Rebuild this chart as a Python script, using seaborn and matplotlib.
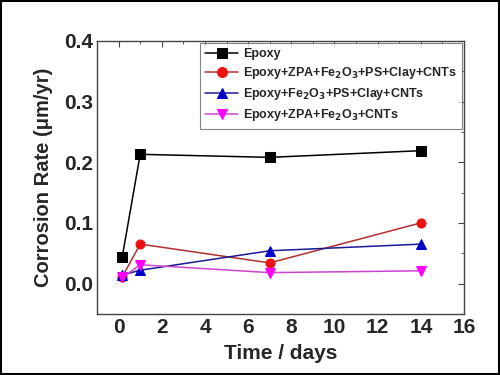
import matplotlib
matplotlib.use("Agg")
import matplotlib.pyplot as plt
import seaborn as sns
import pandas as pd
from matplotlib.ticker import MultipleLocator

# Data
days = [0.17, 1, 7, 14]
epoxy = [0.044, 0.213, 0.208, 0.219]
zpa_ps_clay = [0.011, 0.065, 0.034, 0.100]
fe_ps_clay = [0.014, 0.022, 0.054, 0.065]
zpa_cnts = [0.010, 0.031, 0.018, 0.021]

labels = ["Epoxy",
          "Epoxy+ZPA+Fe$_2$O$_3$+PS+Clay+CNTs",
          "Epoxy+Fe$_2$O$_3$+PS+Clay+CNTs",
          "Epoxy+ZPA+Fe$_2$O$_3$+CNTs"]
series = [epoxy, zpa_ps_clay, fe_ps_clay, zpa_cnts]
colors = ["black", "#ee1111", "#0000cc", "#ff00ff"]
line_colors = ["black", "#b03030", "#1a1a99", "#cc44cc"]
markers = ["s", "o", "^", "v"]

sns.set_style("white")
plt.rcParams["font.family"] = ["Liberation Sans", "DejaVu Sans"]
plt.rcParams["font.weight"] = "bold"
plt.rcParams["mathtext.default"] = "bf"

fig = plt.figure(figsize=(5, 3.75), dpi=100)
ax = fig.add_axes([0.194, 0.163, 0.734, 0.728])

for vals, lab, c, lc, m in zip(series, labels, colors, line_colors, markers):
    df = pd.DataFrame({"Time": days, "Rate": vals})
    sns.lineplot(data=df, x="Time", y="Rate", ax=ax, color=lc, marker=m,
                 markersize=6.5, markerfacecolor=c, markeredgecolor=c,
                 linewidth=1.1, label=lab)

ax.set_xlim(-1, 16)
ax.set_ylim(-0.05, 0.4)
ax.xaxis.set_major_locator(MultipleLocator(2))
ax.xaxis.set_minor_locator(MultipleLocator(1))
ax.yaxis.set_major_locator(MultipleLocator(0.1))
ax.yaxis.set_minor_locator(MultipleLocator(0.05))
ax.tick_params(which="both", direction="in", top=True, right=True,
               color="#444444")
ax.tick_params(which="major", length=4, labelsize=15, pad=3)
ax.tick_params(which="minor", length=2.5)
ax.set_xticks(range(0, 17, 2))
ax.set_xticklabels([str(t) for t in range(0, 17, 2)])
ax.yaxis.set_major_formatter(matplotlib.ticker.FormatStrFormatter("%.1f"))
for s in ax.spines.values():
    s.set_color("#444444")
    s.set_linewidth(1.0)

ax.set_xlabel("Time / days", fontsize=15, fontweight="bold", labelpad=5)
ax.set_ylabel("Corrosion Rate (μm/yr)", fontsize=14.5, fontweight="bold", labelpad=8)

leg = ax.legend(loc="upper right", fontsize=9, frameon=True, fancybox=False,
                borderaxespad=0.15, handlelength=2.6, labelspacing=0.4,
                handletextpad=0.4, borderpad=0.45, markerscale=1.1)
leg.get_frame().set_edgecolor("#666666")
leg.get_frame().set_linewidth(0.8)
for t in leg.get_texts():
    t.set_fontweight("bold")

fig.patches.append(plt.Rectangle((0.002, 0.002), 0.996, 0.995, transform=fig.transFigure,
                                 fill=False, edgecolor="black", linewidth=1.5))

fig.savefig("out.png", dpi=100)
